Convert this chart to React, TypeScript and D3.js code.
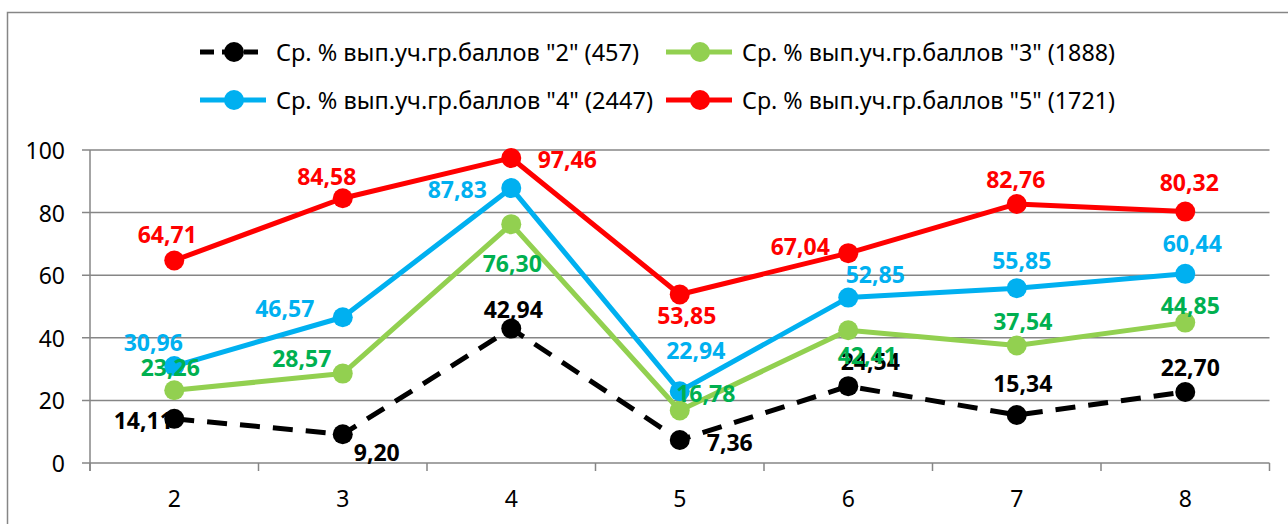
import * as d3 from "d3"
import { useEffect } from "react"

// Значения
const categories = ["2", "3", "4", "5", "6", "7", "8"]
const grade2 = [14.11, 9.2, 42.94, 7.36, 24.54, 15.34, 22.7]
const grade3 = [23.26, 28.57, 76.3, 16.78, 42.41, 37.54, 44.85]
const grade4 = [30.96, 46.57, 87.83, 22.94, 52.85, 55.85, 60.44]
const grade5 = [64.71, 84.58, 97.46, 53.85, 67.04, 82.76, 80.32]
const yTicks = [0, 20, 40, 60, 80, 100]
const seriesNames = [
  'Ср. % вып.уч.гр.баллов "2" (457)',
  'Ср. % вып.уч.гр.баллов "3" (1888)',
  'Ср. % вып.уч.гр.баллов "4" (2447)',
  'Ср. % вып.уч.гр.баллов "5" (1721)',
]

// label nudges relative to the point (Excel-style manual placement)
const labelOffsets = [
  [[-31, 1], [34, 18], [2, -20], [50, 2], [22, -25], [6, -32], [5, -25]],
  [[-4, -23], [-41, -16], [1, 39], [26, -17], [19, 25], [6, -24], [5, -18]],
  [[-21, -24], [-58, -9], [-54, 1], [16, -41], [27, -24], [5, -28], [7, -31]],
  [[-7, -26], [-16, -22], [56, 1], [7, 21], [-48, -7], [-1, -25], [4, -30]],
]

const series = [
  { name: seriesNames[0], values: grade2, line: "#000000", label: "#000000", dash: "20,13" },
  { name: seriesNames[1], values: grade3, line: "#92D050", label: "#00B050", dash: null },
  { name: seriesNames[2], values: grade4, line: "#00B0F0", label: "#00B0F0", dash: null },
  { name: seriesNames[3], values: grade5, line: "#FF0000", label: "#FF0000", dash: null },
]

const legendSlots = [
  { x: 200, y: 52, w: 363 },
  { x: 666, y: 52, w: 373 },
  { x: 200, y: 100, w: 377 },
  { x: 666, y: 100, w: 373 },
]

const W = 1288
const H = 524
const grid = "#868686"
const font = "'Noto Sans', 'DejaVu Sans', sans-serif"

const fmt = (v: number) => d3.format(".2f")(v).replace(".", ",")

export default function App() {
  useEffect(() => {
    document.body.style.margin = "0"
  }, [])

  const x = d3.scaleBand().domain(categories).range([90, 1269.5]).paddingInner(0)
  const y = d3.scaleLinear().domain([0, 100]).range([463, 150])
  const cx = (c: string) => (x(c) ?? 0) + x.bandwidth() / 2
  const line = d3
    .line<number>()
    .x((_, i) => cx(categories[i]))
    .y((d) => y(d))

  const bounds = [...categories.map((c) => x(c) ?? 0), 1269.5]

  return (
    <svg width={W} height={H} style={{ display: "block", background: "#fff" }}>
      <rect x={7.5} y={12.5} width={1300} height={540} fill="#fff" stroke={grid} strokeWidth={1.5} />

      {/* grid */}
      {yTicks.map((t) => (
        <g key={t}>
          <line x1={82} x2={1269.5} y1={y(t)} y2={y(t)} stroke={grid} strokeWidth={1.5} />
          <text
            x={65}
            y={y(t)}
            textAnchor="end"
            dominantBaseline="central"
            fontFamily={font}
            fontSize={23}
            fill="#000"
          >
            {t}
          </text>
        </g>
      ))}
      <line x1={90} x2={90} y1={150} y2={471} stroke={grid} strokeWidth={1.5} />
      {bounds.map((b, i) => (
        <line key={i} x1={b} x2={b} y1={463} y2={471} stroke={grid} strokeWidth={1.5} />
      ))}
      {categories.map((c) => (
        <text
          key={c}
          x={cx(c)}
          y={498}
          textAnchor="middle"
          dominantBaseline="central"
          fontFamily={font}
          fontSize={23}
          fill="#000"
        >
          {c}
        </text>
      ))}

      {/* series */}
      {series.map((s) => (
        <g key={s.name}>
          <path
            d={line(s.values) ?? ""}
            fill="none"
            stroke={s.line}
            strokeWidth={5}
            strokeDasharray={s.dash ?? undefined}
            strokeLinejoin="round"
          />
          {s.values.map((v, i) => (
            <circle key={i} cx={cx(categories[i])} cy={y(v)} r={10} fill={s.line} />
          ))}
        </g>
      ))}

      {/* data labels */}
      {series.map((s, si) =>
        s.values.map((v, i) => (
          <text
            key={`${si}-${i}`}
            x={cx(categories[i]) + labelOffsets[si][i][0]}
            y={y(v) + labelOffsets[si][i][1]}
            textAnchor="middle"
            dominantBaseline="central"
            fontFamily={font}
            fontWeight="bold"
            fontSize={23}
            fill={s.label}
          >
            {fmt(v)}
          </text>
        )),
      )}

      {/* legend */}
      {series.map((s, i) => {
        const slot = legendSlots[i]
        return (
          <g key={s.name}>
            <line
              x1={slot.x}
              x2={slot.x + 66}
              y1={slot.y}
              y2={slot.y}
              stroke={s.line}
              strokeWidth={5}
              strokeDasharray={s.dash ? "14,8" : undefined}
            />
            <circle cx={slot.x + 34} cy={slot.y} r={10} fill={s.line} />
            <text
              x={slot.x + 76}
              y={slot.y}
              dominantBaseline="central"
              fontFamily={font}
              fontSize={23}
              textLength={slot.w}
              lengthAdjust="spacingAndGlyphs"
              fill="#000"
            >
              {s.name}
            </text>
          </g>
        )
      })}
    </svg>
  )
}
